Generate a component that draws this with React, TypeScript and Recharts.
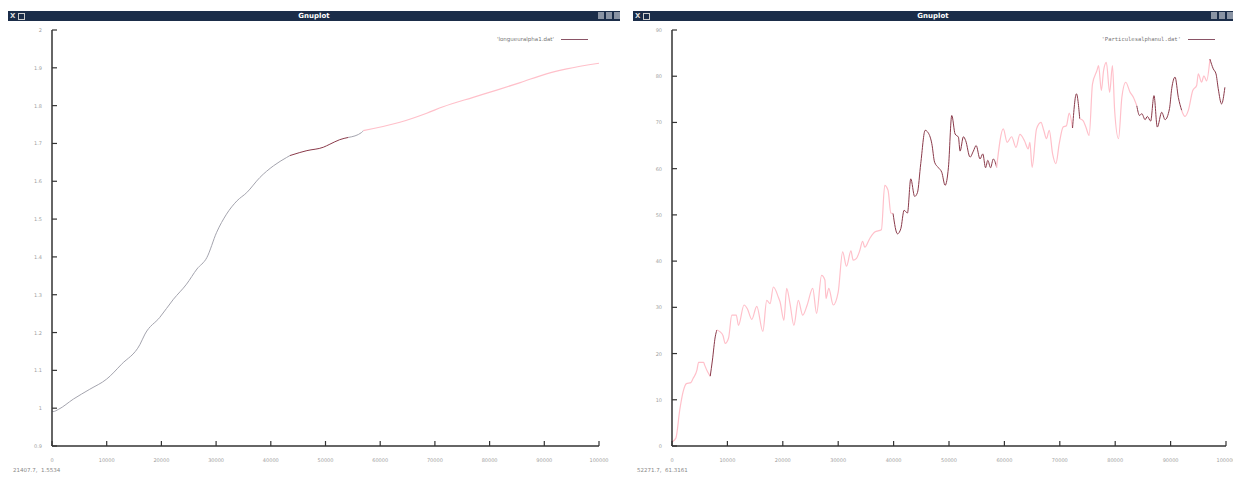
import React from "react";
import { LineChart, Line, XAxis, YAxis } from "recharts";

// ---- data ----
const xTicks = [0, 10000, 20000, 30000, 40000, 50000, 60000, 70000, 80000, 90000, 100000];
const leftYTicks = [0.9, 1, 1.1, 1.2, 1.3, 1.4, 1.5, 1.6, 1.7, 1.8, 1.9, 2];
const rightYTicks = [0, 10, 20, 30, 40, 50, 60, 70, 80, 90];

const leftX = [0, 200, 1200, 3900, 6900, 10000, 12700, 16100, 17000, 19700, 22200, 24600, 26500, 28300, 30100, 31900, 33800, 35600, 38000, 40500, 42900, 43500, 45300, 46600, 49600, 50800, 52600, 54200, 56600, 56900, 63600, 68500, 71500, 77000, 81300, 85600, 90400, 94100, 100000];
const leftY = [0.993, 0.991, 0.997, 1.024, 1.05, 1.077, 1.116, 1.169, 1.196, 1.24, 1.288, 1.328, 1.368, 1.398, 1.465, 1.513, 1.548, 1.57, 1.61, 1.641, 1.663, 1.668, 1.676, 1.681, 1.69, 1.698, 1.71, 1.716, 1.729, 1.734, 1.756, 1.78, 1.797, 1.822, 1.841, 1.861, 1.884, 1.897, 1.912];

const rightX = [0, 700, 1400, 2000, 2600, 3400, 3800, 4500, 4800, 5700, 5900, 6400, 6900, 7300, 7800, 8100, 8700, 9200, 9600, 10200, 10800, 11600, 12000, 13000, 13600, 14400, 15300, 16400, 17100, 17700, 18300, 19200, 19500, 20200, 20700, 21300, 22000, 22800, 23600, 24400, 25400, 26100, 27000, 27600, 27800, 28300, 29100, 30000, 30800, 31500, 32300, 32700, 33300, 33900, 34400, 34800, 35700, 36600, 37800, 38400, 39000, 39500, 39900, 40700, 41300, 41900, 42500, 43100, 43800, 44300, 44900, 45700, 46100, 46900, 47400, 48100, 48700, 49300, 49900, 50500, 51100, 51700, 52000, 52600, 53000, 53800, 54400, 54900, 55600, 56100, 56600, 57000, 57500, 58000, 58600, 59800, 60500, 61300, 62100, 62800, 63600, 64300, 64600, 65000, 65800, 66600, 67100, 67600, 68100, 68700, 69300, 69900, 70600, 71200, 71700, 72300, 73000, 73600, 74200, 74700, 75300, 75900, 76700, 77000, 77500, 77900, 78400, 79000, 79500, 79900, 80600, 81200, 81900, 82700, 83300, 83900, 84400, 84800, 85400, 85800, 86400, 87000, 87600, 88400, 89000, 89800, 90200, 90800, 91400, 92000, 92600, 93200, 94000, 94700, 95000, 95600, 96000, 96500, 97100, 97700, 98200, 98600, 99200, 99800];
const rightY = [0.9, 1.7, 7.8, 11.7, 13.5, 13.7, 14.6, 16.4, 18.1, 18.1, 17.5, 16.1, 15.1, 18.6, 23.6, 25.1, 24.7, 23.9, 22.2, 23.3, 28.3, 28.3, 26.1, 30.5, 29.7, 27.4, 30.2, 24.8, 31.5, 30.8, 34.4, 32.2, 31.2, 27.2, 34.1, 30.8, 26.1, 31.5, 28.3, 30.5, 34.1, 28.7, 36.9, 35.9, 31.9, 34.1, 30.5, 33.3, 42.0, 38.9, 42.2, 40.2, 40.6, 42.3, 44.3, 43.0, 44.9, 46.3, 46.8, 56.4, 55.3, 50.4, 50.3, 45.9, 47.0, 51.0, 50.4, 57.8, 54.0, 54.8, 61.1, 68.3, 68.0, 65.4, 61.4, 60.2, 59.2, 56.4, 60.3, 71.5, 67.5, 66.8, 63.8, 66.9, 66.1, 62.5, 63.8, 65.0, 62.1, 63.2, 60.2, 61.8, 60.2, 62.1, 60.3, 68.6, 65.7, 66.9, 64.6, 67.4, 66.1, 64.3, 65.7, 60.3, 68.6, 70.0, 68.3, 66.5, 68.3, 63.2, 61.1, 65.4, 69.0, 69.3, 72.0, 68.8, 76.2, 70.8, 70.4, 69.0, 67.2, 78.3, 81.2, 82.3, 76.9, 81.2, 83.0, 76.5, 82.3, 72.6, 66.5, 75.4, 78.7, 76.5, 75.4, 73.6, 71.5, 71.9, 70.6, 71.3, 70.3, 75.8, 69.0, 72.2, 70.6, 73.0, 77.3, 79.8, 75.4, 72.6, 71.3, 72.6, 76.9, 78.0, 80.5, 78.7, 80.1, 79.0, 83.7, 81.6, 80.5, 77.3, 74.0, 77.6];

// colour runs along x: [from, to, kind]
const leftRuns: [number, number, string][] = [
  [0, 43500, "gray"],
  [43500, 54200, "dark"],
  [54200, 56900, "gray"],
  [56900, 100000, "pink"],
];
const rightRuns: [number, number, string][] = [
  [0, 6900, "pink"],
  [6900, 8100, "dark"],
  [8100, 39900, "pink"],
  [39900, 58600, "dark"],
  [58600, 72300, "pink"],
  [72300, 73600, "dark"],
  [73600, 83900, "pink"],
  [83900, 92000, "dark"],
  [92000, 97100, "pink"],
  [97100, 99800, "dark"],
];

const COLORS: Record<string, string> = {
  gray: "#a4a4ae",
  dark: "#8a3a4a",
  pink: "#ffc0ca",
};

const LABEL_FILL = "#a0a0a0";
const FRAME = "#333";
const FONT = "'DejaVu Sans', sans-serif";

function buildRuns(xs: number[], ys: number[], runs: [number, number, string][]) {
  return runs.map(([a, b, kind]) => ({
    kind,
    data: xs
      .map((x, i) => ({ x, y: ys[i] }))
      .filter((p) => p.x >= a && p.x <= b),
  }));
}

const BottomTick = (props: any) => {
  const { x, y, payload } = props;
  return (
    <g>
      <line x1={x} x2={x} y1={y} y2={y - 5} stroke={FRAME} strokeWidth={1.2} />
      <text x={x} y={y + 16} textAnchor="middle" fontSize={5} fill={LABEL_FILL} fontFamily={FONT}>
        {payload.value}
      </text>
    </g>
  );
};
const TopTick = (props: any) => {
  const { x, y } = props;
  return <line x1={x} x2={x} y1={y} y2={y + 5} stroke={FRAME} strokeWidth={1.2} />;
};
const makeLeftTick = (fmt: (v: number) => string) => (props: any) => {
  const { x, y, payload } = props;
  return (
    <g>
      <line x1={x} x2={x + 5} y1={y} y2={y} stroke={FRAME} strokeWidth={1.2} />
      <text x={x - 10} y={y + 2} textAnchor="end" fontSize={5} fill={LABEL_FILL} fontFamily={FONT}>
        {fmt(payload.value)}
      </text>
    </g>
  );
};
const RightTick = (props: any) => {
  const { x, y } = props;
  return <line x1={x} x2={x - 5} y1={y} y2={y} stroke={FRAME} strokeWidth={1.2} />;
};

const fmtLeft = (v: number) => {
  const s = v.toFixed(1);
  return s.endsWith(".0") ? s.slice(0, -2) : s;
};
const fmtRight = (v: number) => String(v);

function Panel(props: {
  width: number;
  rightMargin: number;
  xs: number[];
  ys: number[];
  runs: [number, number, string][];
  yDomain: [number, number];
  yTicks: number[];
  fmt: (v: number) => string;
}) {
  const series = buildRuns(props.xs, props.ys, props.runs);
  const LeftTick = makeLeftTick(props.fmt);
  const axisLine = { stroke: FRAME, strokeWidth: 1.5 };
  return (
    <LineChart
      width={props.width}
      height={477}
      margin={{ top: 30, right: props.rightMargin, bottom: 0, left: 0 }}
    >
      <XAxis
        dataKey="x"
        type="number"
        domain={[0, 100000]}
        ticks={xTicks}
        interval={0}
        height={31}
        tickSize={0}
        tickMargin={0}
        tickLine={false}
        axisLine={axisLine}
        tick={BottomTick}
      />
      <XAxis
        xAxisId="top"
        orientation="top"
        dataKey="x"
        type="number"
        domain={[0, 100000]}
        ticks={xTicks}
        interval={0}
        height={0}
        tickSize={0}
        tickMargin={0}
        tickLine={false}
        axisLine={axisLine}
        tick={TopTick}
      />
      <YAxis
        type="number"
        domain={props.yDomain}
        ticks={props.yTicks}
        interval={0}
        width={52}
        tickSize={0}
        tickMargin={0}
        tickLine={false}
        axisLine={axisLine}
        tick={LeftTick}
      />
      <YAxis
        yAxisId="r"
        orientation="right"
        type="number"
        domain={props.yDomain}
        ticks={props.yTicks}
        interval={0}
        width={0}
        tickSize={0}
        tickMargin={0}
        tickLine={false}
        axisLine={axisLine}
        tick={RightTick}
      />
      {series.map((s, i) => (
        <Line
          key={i}
          data={s.data}
          dataKey="y"
          type="monotoneX"
          stroke={COLORS[s.kind]}
          strokeWidth={s.kind === "pink" ? 1.2 : 1}
          dot={false}
          activeDot={false}
          isAnimationActive={false}
        />
      ))}
    </LineChart>
  );
}

function TitleBar({ left, width }: { left: number; width: number }) {
  return (
    <div
      style={{
        position: "absolute",
        left,
        top: 11,
        width,
        height: 10,
        background: "#1b2d49",
        color: "#fff",
        fontFamily: FONT,
        fontWeight: "bold",
        fontSize: 7,
        lineHeight: "10px",
        textAlign: "center",
      }}
    >
      <span style={{ position: "absolute", left: 2, top: 0, fontSize: 7, color: "#ddd" }}>X</span>
      <span style={{ position: "absolute", left: 10, top: 2, width: 5, height: 5, border: "1px solid #ccc" }} />
      Gnuplot
      <span style={{ position: "absolute", right: 16, top: 1, width: 6, height: 7, background: "#8a94a4" }} />
      <span style={{ position: "absolute", right: 8, top: 1, width: 6, height: 7, background: "#8a94a4" }} />
      <span style={{ position: "absolute", right: 0, top: 1, width: 6, height: 7, background: "#8a94a4" }} />
    </div>
  );
}

function LegendBox({ right, text, mono }: { right: number; text: string; mono?: boolean }) {
  return (
    <div style={{ position: "absolute", left: right - 100, top: 35, width: 100, height: 8 }}>
      <span
        style={{
          position: "absolute",
          right: 34,
          top: 0,
          fontSize: 5.5,
          lineHeight: "8px",
          whiteSpace: "nowrap",
          color: "#777",
          fontFamily: mono ? "'DejaVu Sans Mono', monospace" : FONT,
        }}
      >
        {text}
      </span>
      <span style={{ position: "absolute", right: 0, top: 4, width: 27, height: 0, borderTop: "1px solid #8a5466" }} />
    </div>
  );
}

export default function App() {
  return (
    <div style={{ position: "absolute", left: 0, top: 0, width: 1233, height: 477, background: "#fff", overflow: "hidden" }}>
      <TitleBar left={8} width={612} />
      <TitleBar left={633} width={600} />
      <div style={{ position: "absolute", left: 0, top: 0 }}>
        <Panel width={620} rightMargin={21} xs={leftX} ys={leftY} runs={leftRuns} yDomain={[0.9, 2]} yTicks={leftYTicks} fmt={fmtLeft} />
      </div>
      <div style={{ position: "absolute", left: 620, top: 0 }}>
        <Panel width={613} rightMargin={7} xs={rightX} ys={rightY} runs={rightRuns} yDomain={[0, 90]} yTicks={rightYTicks} fmt={fmtRight} />
      </div>
      <LegendBox right={588} text="'longueuralpha1.dat'" />
      <LegendBox right={1215} text="'Particulesalphanul.dat'" mono />
      <div style={{ position: "absolute", left: 13, top: 467, fontSize: 5.5, color: "#888", fontFamily: FONT, whiteSpace: "pre" }}>
        21407.7,  1.5534
      </div>
      <div style={{ position: "absolute", left: 637, top: 467, fontSize: 5.5, color: "#888", fontFamily: FONT, whiteSpace: "pre" }}>
        52271.7,  61.3161
      </div>
    </div>
  );
}
